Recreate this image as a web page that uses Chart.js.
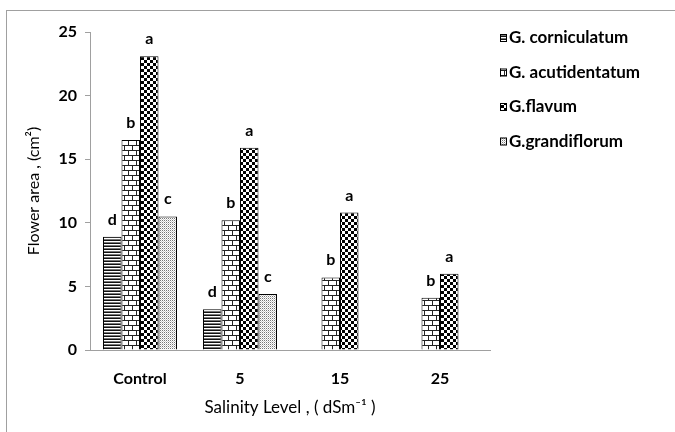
<!DOCTYPE html>
<html lang="en">
<head>
    <meta charset="UTF-8">
    <title>Flower area</title>
    <style>
        html, body { margin: 0; padding: 0; background: #fff; }
        #wrap { width: 675px; height: 432px; position: relative; }
    </style>
    <script src="https://cdn.jsdelivr.net/npm/chart.js@4.4.0/dist/chart.umd.min.js"></script>
</head>
<body>
    <div id="wrap"><canvas id="myChart" width="675" height="432"></canvas></div>
    <script>
        var categories = ['Control', '5', '15', '25'];
        var seriesNames = ['G. corniculatum', 'G. acutidentatum', 'G.flavum', 'G.grandiflorum'];

        var corniculatum = [8.9, 3.2, null, null];
        var acutidentatum = [16.5, 10.2, 5.7, 4.1];
        var flavum = [23.1, 15.9, 10.8, 6.0];
        var grandiflorum = [10.5, 4.4, null, null];

        var lettersCorniculatum = ['d', 'd', '', ''];
        var lettersAcutidentatum = ['b', 'b', 'b', 'b'];
        var lettersFlavum = ['a', 'a', 'a', 'a'];
        var lettersGrandiflorum = ['c', 'c', '', ''];

        var yTicks = [0, 5, 10, 15, 20, 25];

        // small canvas tiles used as fill patterns
        function makePattern(w, h, draw) {
            var c = document.createElement('canvas');
            c.width = w;
            c.height = h;
            var g = c.getContext('2d');
            g.fillStyle = '#fff';
            g.fillRect(0, 0, w, h);
            draw(g);
            return document.getElementById('myChart').getContext('2d').createPattern(c, 'repeat');
        }

        var stripes = makePattern(4, 3, function (g) {
            g.fillStyle = '#111';
            g.fillRect(0, 0, 4, 1);
            g.fillStyle = '#777';
            g.fillRect(0, 2, 4, 1);
        });

        var bricks = makePattern(8, 10, function (g) {
            g.fillStyle = '#222';
            g.fillRect(0, 0, 8, 1);
            g.fillRect(0, 5, 8, 1);
            g.fillRect(0, 1, 1, 4);
            g.fillRect(4, 6, 1, 4);
        });

        var checks = makePattern(6, 6, function (g) {
            g.fillStyle = '#000';
            g.fillRect(0, 0, 3, 3);
            g.fillRect(3, 3, 3, 3);
        });

        var dots = makePattern(2, 2, function (g) {
            g.fillStyle = '#777';
            g.fillRect(0, 0, 1, 1);
            g.fillStyle = '#ccc';
            g.fillRect(1, 1, 1, 1);
        });

        var allLetters = [lettersCorniculatum, lettersAcutidentatum, lettersFlavum, lettersGrandiflorum];

        var frame = {
            id: 'frame',
            beforeDraw: function (chart) {
                var ctx = chart.ctx;
                ctx.save();
                ctx.strokeStyle = '#a0a0a0';
                ctx.lineWidth = 1;
                ctx.strokeRect(6.5, 10.5, 720, 480);
                ctx.restore();
            }
        };

        var letterLabels = {
            id: 'letterLabels',
            afterDatasetsDraw: function (chart) {
                var ctx = chart.ctx;
                ctx.save();
                ctx.font = 'bold 16px Lato';
                ctx.fillStyle = '#000';
                ctx.textAlign = 'center';
                ctx.textBaseline = 'alphabetic';
                chart.data.datasets.forEach(function (ds, i) {
                    var meta = chart.getDatasetMeta(i);
                    meta.data.forEach(function (bar, j) {
                        var t = allLetters[i][j];
                        if (!t || ds.data[j] == null) return;
                        ctx.fillText(t, bar.x, bar.y - 12);
                    });
                });
                ctx.restore();
            }
        };

        var sideLegend = {
            id: 'sideLegend',
            afterDraw: function (chart) {
                var ctx = chart.ctx;
                ctx.save();
                ctx.font = 'bold 17px Lato';
                ctx.textBaseline = 'middle';
                chart.data.datasets.forEach(function (ds, i) {
                    var y = 38 + i * 34.5;
                    ctx.fillStyle = ds.backgroundColor;
                    ctx.fillRect(500, y - 4, 7, 8);
                    ctx.strokeStyle = '#000';
                    ctx.lineWidth = 1;
                    ctx.strokeRect(500.5, y - 3.5, 6, 7);
                    ctx.fillStyle = '#000';
                    ctx.fillText(ds.label, 509, y);
                });
                ctx.restore();
            }
        };

        function dataset(label, values, fill) {
            return {
                label: label,
                data: values,
                backgroundColor: fill,
                borderColor: '#000',
                borderWidth: 1,
                categoryPercentage: 0.74,
                barPercentage: 1.0
            };
        }

        new Chart(document.getElementById('myChart'), {
            type: 'bar',
            data: {
                labels: categories,
                datasets: [
                    dataset(seriesNames[0], corniculatum, stripes),
                    dataset(seriesNames[1], acutidentatum, bricks),
                    dataset(seriesNames[2], flavum, checks),
                    dataset(seriesNames[3], grandiflorum, dots)
                ]
            },
            options: {
                responsive: false,
                animation: false,
                layout: { padding: { left: 0, top: 32, right: 185, bottom: 0 } },
                plugins: {
                    legend: { display: false },
                    tooltip: { enabled: false }
                },
                scales: {
                    x: {
                        grid: { display: false, drawTicks: false },
                        border: { display: true, color: '#a0a0a0', width: 1 },
                        ticks: {
                            color: '#000',
                            padding: 19,
                            font: { family: 'Lato', size: 16, weight: 'bold' }
                        },
                        title: {
                            display: true,
                            text: 'Salinity Level , ( dSm\u207B\u00B9 )',
                            color: '#000',
                            font: { family: 'Lato', size: 17 },
                            padding: { top: 0, bottom: 14 }
                        },
                        afterFit: function (s) { s.height = 82; }
                    },
                    y: {
                        min: 0,
                        max: 25,
                        afterBuildTicks: function (s) {
                            s.ticks = yTicks.map(function (v) { return { value: v }; });
                        },
                        grid: { drawOnChartArea: false, drawTicks: true, tickLength: 5, color: '#a0a0a0' },
                        border: { display: true, color: '#a0a0a0', width: 1 },
                        ticks: {
                            color: '#000',
                            padding: 8,
                            font: { family: 'Lato', size: 16, weight: 'bold' }
                        },
                        title: {
                            display: true,
                            text: 'Flower area , (cm\u00B2)',
                            color: '#000',
                            font: { family: 'Lato', size: 16 },
                            padding: { top: 24, bottom: 0 }
                        },
                        afterFit: function (s) { s.width = 90; }
                    }
                }
            },
            plugins: [frame, letterLabels, sideLegend]
        });
    </script>
</body>
</html>
